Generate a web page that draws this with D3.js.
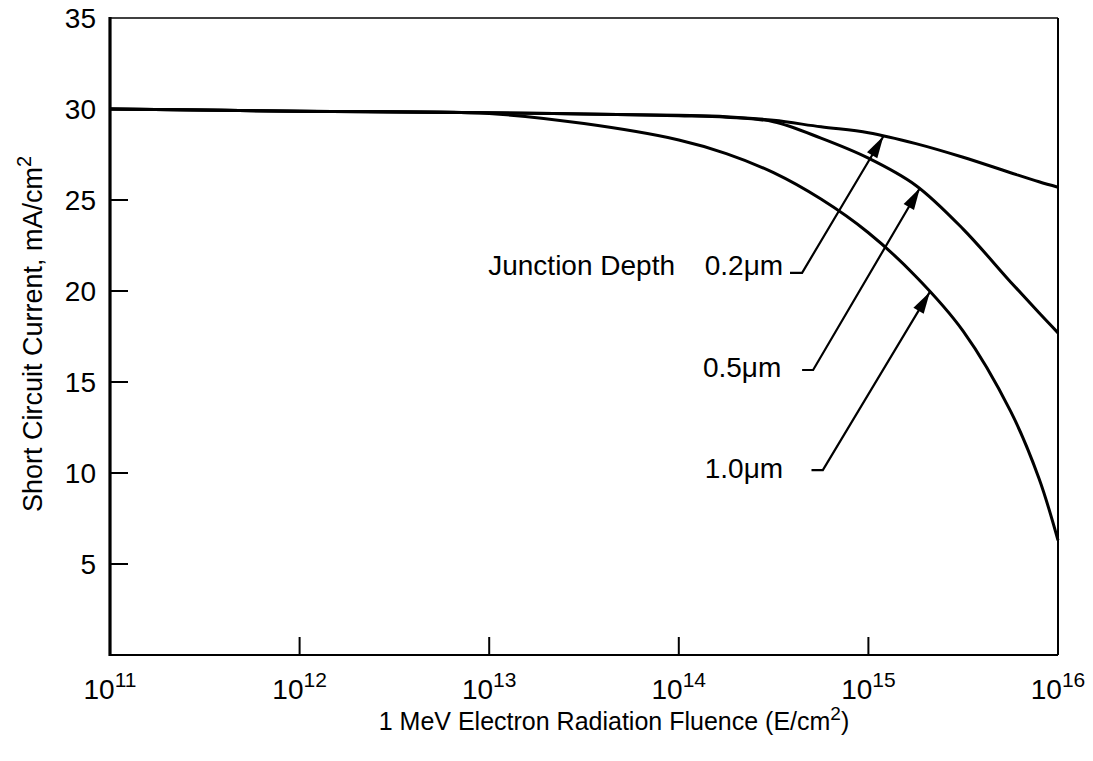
<!DOCTYPE html>
<html><head><meta charset="utf-8">
<script src="https://cdn.jsdelivr.net/npm/d3@7"></script>
<style>body{margin:0;background:#fff}text{font-family:"Liberation Sans",Arial,Helvetica,sans-serif;fill:#000}</style>
</head><body>
<svg id="c" width="1093" height="761"></svg>
<script>
// ---- data ----
const fluence   = [1e11, 1e12, 1e13, 3.16e13, 1e14, 1.78e14, 3.16e14, 5.62e14, 1e15, 1.78e15, 3.16e15, 5.62e15, 7.94e15, 1e16];
const current02 = [30.0, 29.88, 29.8, 29.72, 29.65, 29.58, 29.38, 29.02, 28.7, 28.1, 27.35, 26.5, 26.0, 25.7];
const current05 = [30.0, 29.88, 29.8, 29.72, 29.63, 29.55, 29.3, 28.4, 27.3, 25.8, 23.4, 20.5, 18.8, 17.7];
const current10 = [30.0, 29.88, 29.75, 29.2, 28.3, 27.55, 26.5, 25.05, 23.2, 20.8, 17.8, 13.4, 9.7, 6.3];
const seriesList = [current02, current05, current10];

const yTickValues = [5, 10, 15, 20, 25, 30];
const yLabelValues = [5, 10, 15, 20, 25, 30, 35];
const xTickValues = [1e11, 1e12, 1e13, 1e14, 1e15, 1e16];
const xTickExps   = ["11", "12", "13", "14", "15", "16"];
const xInnerTicks = [1e12, 1e13, 1e14, 1e15];

// annotations (data space)
const annotLabels       = ["0.2\u03bcm", "0.5\u03bcm", "1.0\u03bcm"];
const annotTextFluence  = [1.37e14, 1.34e14, 1.37e14];
const annotTextCurrent  = [20.88, 15.27, 9.73];
const hookStartFluence  = [3.86e14, 4.47e14, 5.01e14];
const tailFluence       = [4.47e14, 5.11e14, 5.75e14];
const tailCurrent       = [21.0, 15.66, 10.16];
const tipFluence        = [1.2e15, 1.87e15, 2.11e15];
const tipCurrent        = [28.5, 25.66, 19.95];
const groupLabel = "Junction Depth";
const groupLabelFluence = 9.55e13;
const groupLabelCurrent = 20.88;

// ---- layout ----
const svg = d3.select("#c");
const x = d3.scaleLog().domain([1e11, 1e16]).range([110, 1058]);
const y = d3.scaleLinear().domain([0, 35]).range([655, 18]);

// frame
svg.append("line").attr("x1", x(1e11)).attr("x2", x(1e16)).attr("y1", y(35)).attr("y2", y(35)).attr("stroke", "#000").attr("stroke-width", 1.5);
svg.append("line").attr("x1", x(1e16)).attr("x2", x(1e16)).attr("y1", y(35)).attr("y2", y(0)).attr("stroke", "#000").attr("stroke-width", 2);
svg.append("line").attr("x1", x(1e11)).attr("x2", x(1e16)).attr("y1", y(0)).attr("y2", y(0)).attr("stroke", "#000").attr("stroke-width", 2);
svg.append("line").attr("x1", x(1e11)).attr("x2", x(1e11)).attr("y1", y(35) - 1).attr("y2", y(0) + 1).attr("stroke", "#000").attr("stroke-width", 3.2);

// y ticks (inward)
svg.selectAll(".yt").data(yTickValues).enter().append("line")
  .attr("x1", x(1e11)).attr("x2", x(1e11) + 18)
  .attr("y1", d => y(d)).attr("y2", d => y(d))
  .attr("stroke", "#000").attr("stroke-width", 2);
svg.selectAll(".yl").data(yLabelValues).enter().append("text")
  .attr("x", 96).attr("y", d => y(d)).attr("dy", "0.36em")
  .attr("text-anchor", "end").attr("font-size", 28).text(d => d);

// x ticks (inward)
svg.selectAll(".xt").data(xInnerTicks).enter().append("line")
  .attr("x1", d => x(d)).attr("x2", d => x(d))
  .attr("y1", y(0)).attr("y2", y(0) - 18)
  .attr("stroke", "#000").attr("stroke-width", 2);
const xl = svg.selectAll(".xl").data(xTickValues).enter().append("text")
  .attr("x", d => x(d)).attr("y", 699).attr("text-anchor", "middle").attr("font-size", 28);
xl.append("tspan").text("10");
xl.append("tspan").attr("font-size", 21).attr("dy", -12).text((d, i) => xTickExps[i]);

// axis titles
const xt = svg.append("text").attr("x", 614).attr("y", 730).attr("text-anchor", "middle").attr("font-size", 25);
xt.append("tspan").text("1 MeV Electron Radiation Fluence (E/cm");
xt.append("tspan").attr("font-size", 19).attr("dy", -10).text("2");
xt.append("tspan").attr("dy", 10).text(")");

const yt = svg.append("text").attr("transform", "translate(42,334) rotate(-90)").attr("text-anchor", "middle").attr("font-size", 27);
yt.append("tspan").text("Short Circuit Current, mA/cm");
yt.append("tspan").attr("font-size", 20).attr("dy", -11).text("2");

// curves
const line = d3.line().x((d, i) => x(fluence[i])).y(d => y(d)).curve(d3.curveCatmullRom.alpha(0.5));
svg.selectAll(".curve").data(seriesList).enter().append("path")
  .attr("d", d => line(d)).attr("fill", "none").attr("stroke", "#000").attr("stroke-width", 3);

// annotations
svg.append("text").attr("x", x(groupLabelFluence)).attr("y", y(groupLabelCurrent))
  .attr("text-anchor", "end").attr("font-size", 28).text(groupLabel);
annotLabels.forEach((lab, i) => {
  svg.append("text").attr("x", x(annotTextFluence[i])).attr("y", y(annotTextCurrent[i]))
    .attr("font-size", 28).text(lab);
  const x0 = x(hookStartFluence[i]), x1 = x(tailFluence[i]), yy = y(tailCurrent[i]);
  const tx = x(tipFluence[i]), ty = y(tipCurrent[i]);
  svg.append("path").attr("d", `M${x0},${yy}L${x1},${yy}L${tx},${ty}`)
    .attr("fill", "none").attr("stroke", "#000").attr("stroke-width", 2.2);
  const dx = tx - x1, dy = ty - yy, len = Math.hypot(dx, dy);
  const ux = dx / len, uy = dy / len, L = 22, W = 6;
  const bx = tx - ux * L, by = ty - uy * L;
  svg.append("path").attr("d", `M${tx},${ty}L${bx - uy * W},${by + ux * W}L${bx + uy * W},${by - ux * W}Z`)
    .attr("fill", "#000");
});
</script>
</body></html>
